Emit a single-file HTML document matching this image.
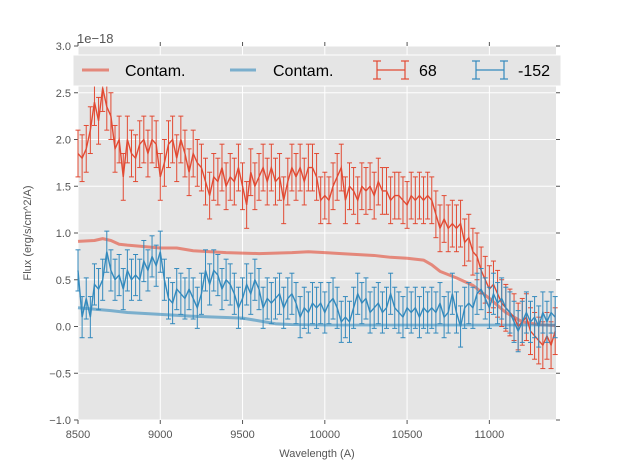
<!DOCTYPE html>
<html><head><meta charset="utf-8"><style>
html,body{margin:0;padding:0;background:#fff;}
svg{display:block;font-family:"Liberation Sans",sans-serif;}
</style></head><body>
<svg id="chart" width="617" height="467" viewBox="0 0 617 467" xmlns="http://www.w3.org/2000/svg">
<rect x="78" y="46" width="478" height="374" fill="#e5e5e5"/>
<g id="grid"></g>
<g id="ticks"></g>
<g id="series"></g>
<text x="31" y="233" font-size="11" fill="#555" text-anchor="middle" transform="rotate(-90 31 233)">Flux (erg/s/cm^2/A)</text>
<text x="317" y="457" font-size="11" fill="#555" text-anchor="middle">Wavelength (A)</text>
<text x="77" y="43" font-size="13" fill="#555">1e−18</text>
<g>
<rect x="73" y="55" width="488" height="31" fill="#e5e5e5" stroke="#fff" stroke-width="1"/>
<line x1="82" y1="70" x2="109" y2="70" stroke="#e24a33" stroke-opacity="0.6" stroke-width="3"/>
<text x="125" y="76" font-size="16" fill="#000">Contam.</text>
<line x1="230" y1="70" x2="256" y2="70" stroke="#348abd" stroke-opacity="0.6" stroke-width="3"/>
<text x="273" y="76" font-size="16" fill="#000">Contam.</text>
<g stroke="#e24a33" stroke-width="1.2" fill="none"><line x1="377" y1="70" x2="405" y2="70"/><line x1="377" y1="61" x2="377" y2="79"/><line x1="405" y1="61" x2="405" y2="79"/><line x1="373" y1="61" x2="381" y2="61"/><line x1="373" y1="79" x2="381" y2="79"/><line x1="401" y1="61" x2="409" y2="61"/><line x1="401" y1="79" x2="409" y2="79"/></g>
<text x="419" y="76" font-size="16" fill="#000">68</text>
<g stroke="#348abd" stroke-width="1.2" fill="none"><line x1="476" y1="70" x2="504" y2="70"/><line x1="476" y1="61" x2="476" y2="79"/><line x1="504" y1="61" x2="504" y2="79"/><line x1="472" y1="61" x2="480" y2="61"/><line x1="472" y1="79" x2="480" y2="79"/><line x1="500" y1="61" x2="508" y2="61"/><line x1="500" y1="79" x2="508" y2="79"/></g>
<text x="518" y="76" font-size="16" fill="#000">-152</text>
</g>
</svg>
<script>
const waveStart = 8500;
const waveStep = 25;
const red68 = [1.85,1.8,1.9,2.1,2.4,2.2,2.55,2.35,2.25,1.9,2.0,1.6,2.0,1.85,1.8,1.95,2.0,1.85,2.0,1.95,1.6,1.75,1.95,2.0,1.8,2.0,1.85,1.65,1.85,1.75,1.7,1.55,1.4,1.6,1.55,1.7,1.5,1.6,1.55,1.7,1.5,1.3,1.65,1.5,1.6,1.7,1.55,1.7,1.55,1.6,1.35,1.55,1.7,1.6,1.7,1.55,1.7,1.7,1.6,1.35,1.4,1.35,1.5,1.6,1.7,1.35,1.5,1.45,1.35,1.5,1.45,1.5,1.4,1.55,1.45,1.45,1.35,1.4,1.4,1.35,1.3,1.4,1.35,1.4,1.35,1.4,1.35,1.2,1.05,1.15,1.05,1.1,1.05,1.1,0.9,0.95,0.8,0.75,0.6,0.5,0.4,0.45,0.35,0.25,0.2,0.15,0.1,0.0,0.05,0.1,-0.05,-0.1,-0.15,-0.2,-0.1,-0.2,-0.05];
const blue152 = [0.6,0.1,0.3,0.1,0.45,0.4,0.5,0.8,0.6,0.5,0.55,0.4,0.6,0.5,0.55,0.5,0.7,0.6,0.75,0.65,0.8,0.5,0.3,0.25,0.4,0.35,0.3,0.4,0.3,0.2,0.35,0.6,0.45,0.6,0.55,0.4,0.5,0.45,0.35,0.2,0.3,0.45,0.35,0.5,0.4,0.2,0.3,0.25,0.3,0.35,0.2,0.3,0.35,0.25,0.1,0.2,0.15,0.25,0.2,0.25,0.15,0.25,0.3,0.2,0.05,0.1,0.05,0.2,0.35,0.25,0.3,0.15,0.2,0.25,0.15,0.2,0.35,0.2,0.15,0.1,0.2,0.15,0.2,0.1,0.2,0.15,0.2,0.15,0.25,0.1,0.15,0.35,0.15,0.0,0.2,0.25,0.2,0.35,0.4,0.3,0.2,0.35,0.25,0.3,0.2,0.15,0.05,-0.05,0.05,0.15,0.05,0.1,0.0,0.15,0.05,0.15,0.1];
const redErr = 0.25;
const blueErr = 0.22;
const contamRedWave = [8500,8600,8650,8700,8750,8800,9000,9100,9200,9400,9600,9800,9900,10000,10100,10300,10400,10500,10600,10650,10700,10800,10900,11000,11100,11200,11300,11400];
const contamRedFlux = [0.91,0.92,0.94,0.92,0.88,0.87,0.84,0.84,0.81,0.79,0.78,0.79,0.80,0.79,0.78,0.76,0.74,0.73,0.71,0.66,0.59,0.52,0.44,0.30,0.15,0.05,0.02,0.01];
const contamBlueWave = [8500,8700,8800,9000,9200,9500,9600,9700,9800,10000,11400];
const contamBlueFlux = [0.2,0.17,0.15,0.13,0.11,0.09,0.06,0.03,0.02,0.015,0.015];
const xTicks = [8500,9000,9500,10000,10500,11000];
const yTicks = [-1.0,-0.5,0.0,0.5,1.0,1.5,2.0,2.5,3.0];
const yTickLabels = ["\u22121.0","\u22120.5","0.0","0.5","1.0","1.5","2.0","2.5","3.0"];

const NS = "http://www.w3.org/2000/svg";
const X = w => 78 + (w - 8500) * 478 / 2905;
const Y = v => 46 + (3 - v) * 374 / 4;
function mk(tag, attrs, parent){const e=document.createElementNS(NS,tag);for(const k in attrs)e.setAttribute(k,attrs[k]);parent.appendChild(e);return e;}
const grid=document.getElementById('grid'), ticks=document.getElementById('ticks'), ser=document.getElementById('series');
xTicks.forEach(t=>{
  const g=mk('line',{x1:X(t),x2:X(t),y1:46,y2:420,stroke:'#fff','stroke-width':1},grid);
  
  
  mk('line',{x1:X(t),x2:X(t),y1:420,y2:424,stroke:'#555'},ticks);
  mk('line',{x1:X(t),x2:X(t),y1:46,y2:42,stroke:'#555'},ticks);
  const tx=mk('text',{x:X(t),y:438,'font-size':11,fill:'#555','text-anchor':'middle'},ticks);
  tx.textContent=t;
  
  
});
yTicks.forEach((t,i)=>{
  const g=mk('line',{x1:78,x2:556,y1:Y(t),y2:Y(t),stroke:'#fff','stroke-width':1},grid);
  
  
  mk('line',{x1:74,x2:78,y1:Y(t),y2:Y(t),stroke:'#555'},ticks);
  mk('line',{x1:556,x2:560,y1:Y(t),y2:Y(t),stroke:'#555'},ticks);
  const tx=mk('text',{x:71,y:Y(t)+4,'font-size':11,fill:'#555','text-anchor':'end'},ticks);
  tx.textContent=yTickLabels[i];
  
  
});
function contam(ws,fs,color,name){
  const p=mk('polyline',{points:ws.map((w,i)=>X(w)+','+Y(fs[i])).join(' '),fill:'none',stroke:color,'stroke-opacity':0.6,'stroke-width':3,'stroke-linejoin':'round'},ser);
  
  
}
function errSeries(vals,err,color,name){
  const g=mk('g',{stroke:color,'stroke-width':1,fill:'none'},ser);
  
  
  vals.forEach((v,i)=>{
    const x=X(waveStart+i*waveStep);
    mk('line',{x1:x,x2:x,y1:Y(v+err),y2:Y(v-err)},g);
    mk('line',{x1:x-2.5,x2:x+2.5,y1:Y(v+err),y2:Y(v+err)},g);
    mk('line',{x1:x-2.5,x2:x+2.5,y1:Y(v-err),y2:Y(v-err)},g);
  });
  mk('polyline',{points:vals.map((v,i)=>X(waveStart+i*waveStep)+','+Y(v)).join(' '),'stroke-width':1.4},g);
}
contam(contamRedWave,contamRedFlux,'#e24a33','contam-red-line');
contam(contamBlueWave,contamBlueFlux,'#348abd','contam-blue-line');
errSeries(red68,redErr,'#e24a33','series-68');
errSeries(blue152,blueErr,'#348abd','series-152');
</script>
</body></html>
